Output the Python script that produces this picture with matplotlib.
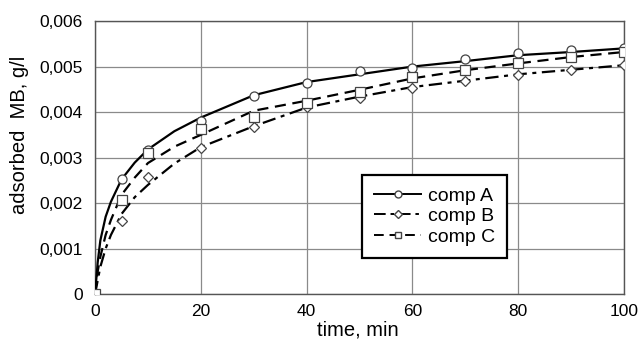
import matplotlib
matplotlib.use('Agg')
import matplotlib.pyplot as plt
from matplotlib.lines import Line2D
from matplotlib.ticker import FuncFormatter, MultipleLocator

plt.rcParams['font.family'] = ['Liberation Sans', 'DejaVu Sans']

# measured points
t_meas = [0, 5, 10, 20, 30, 40, 50, 60, 70, 80, 90, 100]
comp_a = [0, 0.00252, 0.00316, 0.00380, 0.00435, 0.00465, 0.00491, 0.00496, 0.00517, 0.00530, 0.00536, 0.00541]
comp_b = [0, 0.00160, 0.00258, 0.00320, 0.00368, 0.00412, 0.00430, 0.00454, 0.00468, 0.00481, 0.00492, 0.00503]
comp_c = [0, 0.00207, 0.00310, 0.00363, 0.00390, 0.00420, 0.00445, 0.00478, 0.00492, 0.00507, 0.00521, 0.00532]

# fitted curves
t_fit = [0, 0.5, 1, 2, 3, 5, 7.5, 10, 15, 20, 30, 40, 50, 60, 70, 80, 90, 100]
fit_a = [0, 0.00070, 0.00118, 0.00170, 0.00203, 0.00252, 0.00289, 0.00318, 0.00358, 0.00388, 0.00437, 0.00466, 0.00483, 0.00500, 0.00512, 0.00525, 0.00532, 0.00540]
fit_b = [0, 0.00030, 0.00060, 0.00100, 0.00130, 0.00176, 0.00213, 0.00240, 0.00287, 0.00323, 0.00369, 0.00410, 0.00434, 0.00455, 0.00469, 0.00483, 0.00493, 0.00503]
fit_c = [0, 0.00050, 0.00082, 0.00130, 0.00163, 0.00218, 0.00256, 0.00288, 0.00324, 0.00350, 0.00403, 0.00425, 0.00449, 0.00474, 0.00492, 0.00507, 0.00521, 0.00532]

labels = ['comp A', 'comp B', 'comp C']


def comma_fmt(y, pos):
    if abs(y) < 1e-12:
        return '0'
    return '{:.3f}'.format(y).replace('.', ',')


fig = plt.figure(figsize=(6.38, 3.40), dpi=100)
ax = fig.add_axes([0.149, 0.135, 0.829, 0.803])

ls_a = '-'
ls_b = (0, (6, 2.5, 1.8, 2.5))
ls_c = (0, (5, 3))

ax.plot(t_fit, fit_a, color='black', lw=1.6, ls=ls_a, zorder=3)
ax.plot(t_fit, fit_b, color='black', lw=1.6, ls=ls_b, zorder=3)
ax.plot(t_fit, fit_c, color='black', lw=1.6, ls=ls_c, zorder=3)

mk = dict(ls='none', mfc='white', mec='#444444', mew=0.9, zorder=4)
ax.plot(t_meas, comp_a, marker='o', ms=6.5, **mk)
ax.plot(t_meas, comp_b, marker='D', ms=5, **mk)
ax.plot(t_meas, comp_c, marker='s', ms=6.5, **mk)

ax.set_xlim(0, 100)
ax.set_ylim(0, 0.006)
ax.xaxis.set_major_locator(MultipleLocator(20))
ax.yaxis.set_major_locator(MultipleLocator(0.001))
ax.yaxis.set_major_formatter(FuncFormatter(comma_fmt))
ax.grid(True, color='#8a8a8a', lw=0.9)
ax.set_axisbelow(True)
for s in ax.spines.values():
    s.set_color('#555555')
    s.set_linewidth(1.0)
ax.tick_params(length=0, labelsize=12.5, pad=7, colors='black')
ax.tick_params(axis='y', pad=9)

fig.text(0.561, 0.03, 'time, min', fontsize=14.5, ha='center', va='center')
fig.text(0.031, 0.603, 'adsorbed  MB, g/l', fontsize=14.5, ha='center', va='center', rotation=90)

handles = [
    Line2D([], [], color='black', lw=1.4, ls=ls_a, marker='o', ms=5, mfc='white', mec='#444444'),
    Line2D([], [], color='black', lw=1.4, ls=ls_b, marker='D', ms=4, mfc='white', mec='#444444'),
    Line2D([], [], color='black', lw=1.4, ls=ls_c, marker='s', ms=5, mfc='white', mec='#444444'),
]
leg = ax.legend(handles, labels, loc='upper left', bbox_to_anchor=(0.505, 0.436),
                borderaxespad=0, fontsize=14, frameon=True, fancybox=False,
                handlelength=2.4, handletextpad=0.35, labelspacing=0.15,
                borderpad=0.62)
leg.get_frame().set_edgecolor('black')
leg.get_frame().set_linewidth(1.6)
leg.get_frame().set_alpha(1)

fig.savefig('out.png', dpi=100)
